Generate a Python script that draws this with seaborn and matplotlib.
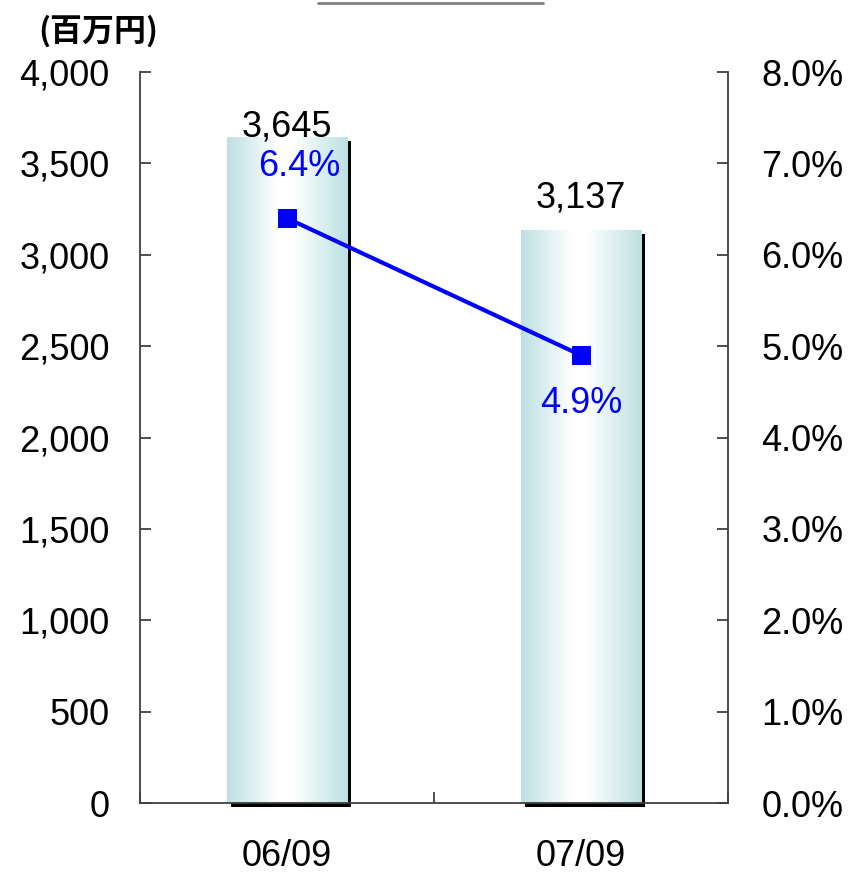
import matplotlib
matplotlib.use("Agg")
import matplotlib.pyplot as plt
import matplotlib.patheffects as pe
from matplotlib.colors import LinearSegmentedColormap
from matplotlib.lines import Line2D
from matplotlib.ticker import FuncFormatter, FixedLocator
import numpy as np
import seaborn as sns

# データ
periods = ["06/09", "07/09"]
profit = [3645, 3137]          # 百万円
margin = [6.4, 4.9]            # %
profit_labels = ["3,645", "3,137"]
margin_labels = ["6.4%", "4.9%"]

left_ticks = [0, 500, 1000, 1500, 2000, 2500, 3000, 3500, 4000]
right_ticks = [0, 1, 2, 3, 4, 5, 6, 7, 8]

BLUE = "#0000FF"
EDGE = "#BDE0E3"
FONT = ["Liberation Sans", "DejaVu Sans"]

sns.set_style("white")
plt.rcParams["font.family"] = FONT
plt.rcParams["text.color"] = "black"
plt.rcParams["xtick.color"] = "black"
plt.rcParams["ytick.color"] = "black"

fig = plt.figure(figsize=(8.51, 8.76), dpi=100)
ax = fig.add_axes([0.1645, 0.0833, 0.691, 0.8345])

sns.barplot(x=periods, y=profit, ax=ax, width=0.41, color="white", saturation=1)

# グラデーション + 影
cmap = LinearSegmentedColormap.from_list(
    "bar", [(0, EDGE), (0.42, "white"), (0.55, "white"), (1, EDGE)])
grad = np.linspace(0, 1, 256).reshape(1, -1)
for patch in ax.patches:
    x0, y0 = patch.get_x(), patch.get_y()
    w, h = patch.get_width(), patch.get_height()
    patch.set_facecolor("none")
    patch.set_edgecolor("none")
    patch.set_clip_on(False)
    patch.set_path_effects([pe.SimplePatchShadow(offset=(3, -3), shadow_rgbFace="black", alpha=1)])
    im = ax.imshow(grad, extent=[x0, x0 + w, y0, y0 + h], aspect="auto",
                   cmap=cmap, zorder=patch.get_zorder() + 0.1, interpolation="bilinear")
    im.set_clip_path(patch)

ax.set_xlim(-0.5, 1.5)
ax.set_ylim(0, 4000)
ax.set_yticks(left_ticks)
ax.yaxis.set_major_formatter(FuncFormatter(lambda v, p: f"{v:,.0f}"))
ax.set_xlabel("")
ax.set_ylabel("")

# 棒ラベル
bar_offsets = [0, 16]
for i, (v, lab) in enumerate(zip(profit, profit_labels)):
    ax.annotate(lab, (i, v), xytext=(0, bar_offsets[i]), textcoords="offset points",
                ha="center", va="baseline", fontsize=26, color="black", zorder=5)

ax2 = ax.twinx()
sns.lineplot(x=np.arange(len(periods)), y=margin, ax=ax2, color=BLUE, linewidth=3,
             marker="s", markersize=13, markeredgecolor=BLUE, markerfacecolor=BLUE)
ax2.set_ylim(0, 8)
ax2.set_yticks(right_ticks)
ax2.yaxis.set_major_formatter(FuncFormatter(lambda v, p: f"{v:.1f}%"))
ax2.set_ylabel("")

margin_offsets = [(9, 37), (0, -35)]
for i, (v, lab) in enumerate(zip(margin, margin_labels)):
    ax2.annotate(lab, (i, v), xytext=margin_offsets[i], textcoords="offset points",
                 ha="center", va="center", fontsize=26, color=BLUE)

# 軸
spine_c = "#404040"
for a in (ax, ax2):
    a.spines["top"].set_visible(False)
    for s in a.spines.values():
        s.set_color(spine_c)
        s.set_linewidth(1.3)
ax.spines["right"].set_visible(False)
ax2.spines["left"].set_visible(False)
ax2.spines["bottom"].set_visible(False)

ax.tick_params(axis="y", direction="in", length=8, width=1.3, color=spine_c,
               labelcolor="black", labelsize=26, pad=22, left=True)
ax2.tick_params(axis="y", direction="in", length=8, width=1.3, color=spine_c,
                labelcolor="black", labelsize=26, pad=24, right=True)
ax.tick_params(axis="x", which="major", length=0, labelsize=26, labelcolor="black", pad=26)
ax.xaxis.set_minor_locator(FixedLocator([-0.5, 0.5, 1.5]))
ax.tick_params(axis="x", which="minor", direction="in", length=8, width=1.3,
               color=spine_c, bottom=True)
ax2.set_xlim(-0.5, 1.5)

fig.text(0.045, 0.964, "(百万円)", fontsize=23, fontweight="bold", color="black",
         family=["Noto Sans CJK JP", "DejaVu Sans"], ha="left", va="center")
fig.add_artist(Line2D([0.374, 0.638], [0.997, 0.997], color="#808080", linewidth=2,
                      transform=fig.transFigure))

fig.savefig("out.png", dpi=100)
